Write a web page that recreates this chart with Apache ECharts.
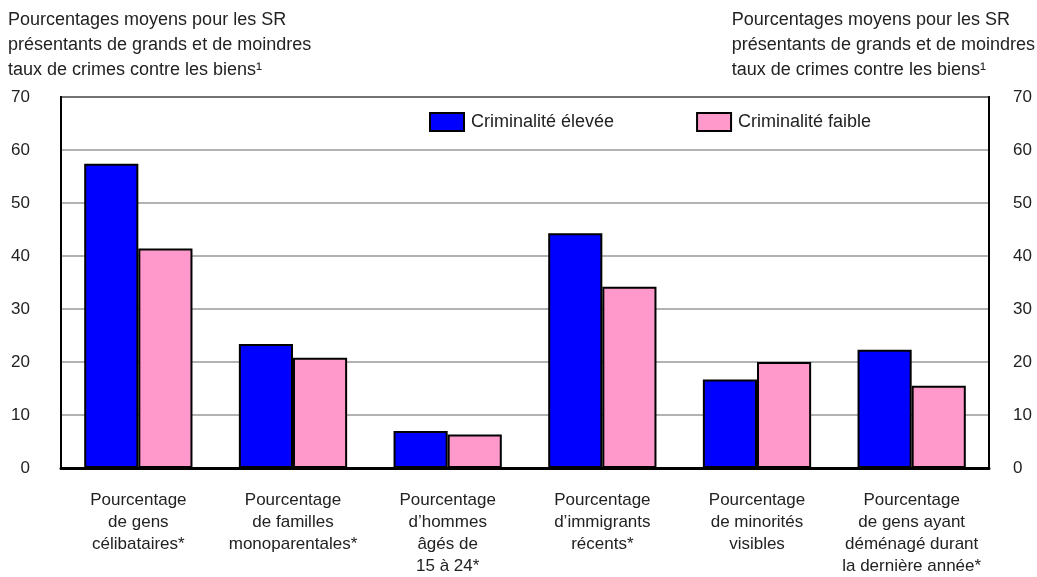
<!DOCTYPE html>
<html lang="fr">
<head>
<meta charset="UTF-8">
<title>Criminalité</title>
<style>
  html, body { margin: 0; padding: 0; background: #fff; }
  #chart { width: 1037px; height: 577px; }
</style>
</head>
<body>
<div id="chart"></div>
<script src="https://cdn.jsdelivr.net/npm/echarts@6/dist/echarts.min.js"></script>
<script>
    // données
    var categories = [
        'Pourcentage\nde gens\ncélibataires*',
        'Pourcentage\nde familles\nmonoparentales*',
        'Pourcentage\nd\u2019hommes\nâgés de\n15 à 24*',
        'Pourcentage\nd\u2019immigrants\nrécents*',
        'Pourcentage\nde minorités\nvisibles',
        'Pourcentage\nde gens ayant\ndéménagé durant\nla dernière année*'
    ];
    var eleveeValues = [57.4, 23.4, 7.0, 44.3, 16.7, 22.3];
    var faibleValues = [41.4, 20.8, 6.3, 34.2, 20.0, 15.5];
    var seriesNames = ['Criminalité élevée', 'Criminalité faible'];
    var yTitle = 'Pourcentages moyens pour les SR\nprésentants de grands et de moindres\ntaux de crimes contre les biens\u00b9';

    var font = "'Liberation Sans Narrow', 'Arial Narrow', 'Liberation Sans', sans-serif";
    var chart = echarts.init(document.getElementById('chart'));

    var yAxisBase = {
        type: 'value',
        min: 0, max: 70, interval: 10,
        axisLine: { show: true, lineStyle: { color: '#000', width: 2 } },
        axisTick: { show: false },
        splitLine: { show: true, lineStyle: { color: '#999', width: 1.5 } }
    };

    chart.setOption({
        backgroundColor: '#fff',
        animation: false,
        textStyle: { fontFamily: font },
        graphic: [
            {
                type: 'text', left: 8, top: 8,
                style: { text: yTitle, font: '18px ' + font, fill: '#222', lineHeight: 25 }
            },
            {
                type: 'text', right: 2, top: 8,
                style: { text: yTitle, font: '18px ' + font, fill: '#222', lineHeight: 25, align: 'right' }
            }
        ],
        legend: {
            data: seriesNames,
            top: 112,
            left: 429,
            padding: 0,
            itemWidth: 34,
            itemHeight: 18,
            itemGap: 82,
            textStyle: { fontSize: 18, color: '#222', fontFamily: font, padding: [0, 0, 0, 2] },
            icon: 'rect'
        },
        grid: {
            left: 61, right: 48, top: 97, bottom: 107,
            show: true, borderColor: '#000', borderWidth: 2
        },
        xAxis: {
            type: 'category',
            data: categories,
            axisLine: { show: true, lineStyle: { color: '#000', width: 3 } },
            axisTick: { show: false },
            axisLabel: {
                interval: 0, margin: 21, color: '#222', fontSize: 17,
                lineHeight: 22, fontFamily: font
            }
        },
        yAxis: [
            Object.assign({}, yAxisBase, {
                position: 'left',
                axisLabel: { margin: 31, color: '#222', fontSize: 17, fontFamily: font, align: 'right' }
            }),
            Object.assign({}, yAxisBase, {
                position: 'right',
                splitLine: { show: false },
                axisLabel: { margin: 24, color: '#222', fontSize: 17, fontFamily: font, align: 'left' }
            })
        ],
        series: [
            {
                name: seriesNames[0], type: 'bar', data: eleveeValues,
                barGap: '0%', barCategoryGap: '30%',
                itemStyle: { color: '#0000ff', borderColor: '#000', borderWidth: 2 }
            },
            {
                name: seriesNames[1], type: 'bar', data: faibleValues,
                itemStyle: { color: '#ff99cc', borderColor: '#000', borderWidth: 2 }
            }
        ]
    });
</script>
</body>
</html>
